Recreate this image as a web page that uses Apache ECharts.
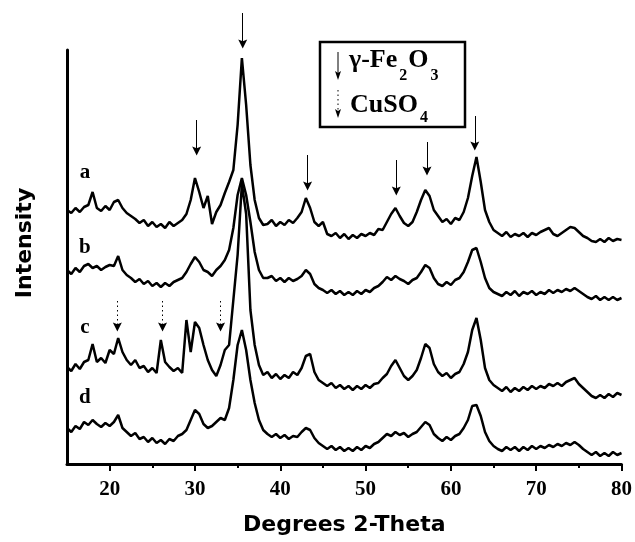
<!DOCTYPE html>
<html>
<head>
<meta charset="utf-8">
<script src="https://cdn.jsdelivr.net/npm/echarts@6/dist/echarts.min.js"></script>
<style>
html, body { margin: 0; padding: 0; background: #fff; }
#plot { width: 635px; height: 542px; }
</style>
</head>
<body>
<div id="plot"></div>
<script>
// 2-theta sample positions (degrees)
var twoTheta = [
    15, 15.5, 16, 16.5, 17, 17.5, 18, 18.5, 19, 19.5,
    20, 20.5, 21, 21.5, 22, 22.5, 23, 23.5, 24, 24.5,
    25, 25.5, 26, 26.5, 27, 27.5, 28, 28.5, 29, 29.5,
    30, 30.5, 31, 31.5, 32, 32.5, 33, 33.5, 34, 34.5,
    35, 35.5, 36, 36.5, 37, 37.5, 38, 38.5, 39, 39.5,
    40, 40.5, 41, 41.5, 42, 42.5, 43, 43.5, 44, 44.5,
    45, 45.5, 46, 46.5, 47, 47.5, 48, 48.5, 49, 49.5,
    50, 50.5, 51, 51.5, 52, 52.5, 53, 53.5, 54, 54.5,
    55, 55.5, 56, 56.5, 57, 57.5, 58, 58.5, 59, 59.5,
    60, 60.5, 61, 61.5, 62, 62.5, 63, 63.5, 64, 64.5,
    65, 65.5, 66, 66.5, 67, 67.5, 68, 68.5, 69, 69.5,
    70, 70.5, 71, 71.5, 72, 72.5, 73, 73.5, 74, 74.5,
    75, 75.5, 76, 76.5, 77, 77.5, 78, 78.5, 79, 79.5,
    80
];

// stacked patterns (arbitrary intensity, offsets included)
var intensityA = [
    254, 251, 256, 252, 257, 259, 272, 256, 253, 258,
    254, 262, 264, 256, 251, 248, 245, 241, 244, 238,
    242, 237, 240, 236, 242, 238, 241, 244, 250, 264,
    286, 272, 256, 268, 240, 252, 259, 271, 282, 294,
    339, 406, 359, 299, 264, 246, 239, 240, 244, 238,
    242, 239, 244, 241, 246, 252, 266, 256, 242, 238,
    242, 230, 228, 231, 226, 230, 225, 229, 226, 230,
    228, 231, 229, 235, 234, 242, 250, 256, 248, 241,
    238, 242, 252, 264, 274, 268, 254, 248, 242, 245,
    240, 246, 244, 252, 266, 288, 307, 282, 254, 242,
    234, 231, 228, 232, 227, 230, 228, 231, 227, 231,
    229, 232, 234, 236, 230, 228, 231, 234, 237, 236,
    232, 228, 226, 223, 222, 225, 222, 226, 223, 225,
    224
];
var intensityB = [
    194, 190, 196, 192, 198, 200, 196, 198, 194, 197,
    199, 198, 208, 194, 189, 186, 182, 185, 180, 183,
    178, 181, 177, 181, 178, 182, 184, 186, 192, 200,
    207, 202, 194, 192, 188, 194, 198, 204, 214, 236,
    269, 286, 269, 242, 212, 194, 186, 186, 188, 183,
    186, 182, 186, 183, 185, 188, 194, 190, 180, 176,
    174, 171, 174, 170, 173, 169, 172, 169, 173, 170,
    174, 172, 176, 178, 182, 187, 184, 188, 185, 183,
    180, 184, 186, 192, 199, 196, 186, 180, 178, 182,
    179, 184, 186, 192, 202, 214, 216, 202, 186, 176,
    172, 170, 168, 172, 169, 173, 168, 172, 170, 173,
    169, 172, 170, 174, 171, 174, 172, 175, 173, 176,
    173, 170, 167, 165, 168, 164, 167, 164, 167, 164,
    166
];
var intensityC = [
    97, 93, 100, 95, 102, 104, 120, 102, 106, 101,
    114, 110, 126, 112, 104, 99, 104, 96, 98, 92,
    96, 91, 124, 102, 97, 93, 96, 91, 144, 112,
    142, 136, 119, 104, 94, 88, 99, 114, 119, 164,
    209, 280, 250, 154, 119, 99, 89, 92, 86, 90,
    85, 89, 86, 92, 89, 96, 108, 110, 92, 84,
    81, 78, 81, 76, 79, 75, 78, 74, 78, 75,
    79, 76, 80, 81, 86, 90, 98, 104, 96, 88,
    84, 88, 94, 106, 120, 116, 100, 92, 88, 91,
    86, 90, 92, 100, 112, 134, 146, 124, 96, 84,
    79, 76, 73, 77, 72, 76, 73, 77, 74, 78,
    75, 78, 76, 80, 78, 81, 78, 82, 84, 86,
    80, 76, 72, 68, 66, 69, 66, 70, 67, 71,
    69
];
var intensityD = [
    36, 32, 38, 35, 42, 39, 44, 40, 37, 41,
    38, 42, 49, 36, 32, 28, 31, 25, 27, 22,
    26, 21, 24, 20, 25, 23, 28, 30, 34, 44,
    54, 50, 40, 36, 38, 42, 46, 44, 56, 84,
    119, 134, 114, 84, 61, 44, 34, 30, 27, 30,
    26, 29, 25, 28, 27, 32, 36, 34, 26, 21,
    18, 15, 18, 14, 17, 13, 16, 13, 17, 14,
    18, 16, 20, 22, 26, 30, 28, 32, 29, 31,
    27, 30, 32, 37, 42, 39, 30, 26, 23, 27,
    24, 28, 30, 36, 44, 58, 59, 48, 32, 23,
    18, 15, 13, 17, 14, 17, 13, 17, 14, 18,
    15, 18, 16, 19, 17, 20, 18, 21, 19, 22,
    19, 15, 12, 9, 12, 8, 11, 8, 12, 9,
    11
];

var traceNames = ['a', 'b', 'c', 'd'];
var labelTheta = 17.1;
var labelHeights = [291, 216, 136, 66];

// peak markers: gamma-Fe2O3 (solid) and CuSO4 (dotted)
var feArrowTheta = [30.2, 35.6, 43.2, 53.6, 57.2, 62.8];
var feArrowTail = [344, 451, 309, 304, 322, 348];
var feArrowHead = [313, 420, 278, 273, 293, 318];
var cuArrowTheta = [20.9, 26.2, 33.0];
var cuArrowTail = [163, 163, 163];
var cuArrowHead = [137, 137, 137];

var xLabelTicks = [20, 30, 40, 50, 60, 70, 80];
var xMinorTicks = [25, 35, 45, 55, 65, 75];

var arrowHead = 'path://M3,0 L6,10 L3,8 L0,10 Z';

var chart = echarts.init(document.getElementById('plot'));

function arrows(theta, tail, head) {
    return theta.map(function (t, i) {
        return [{ coord: [t, tail[i]] }, { coord: [t, head[i]] }];
    });
}

function makeSeries(idx, values) {
    var s = {
        type: 'line',
        xAxisIndex: 0,
        yAxisIndex: 0,
        data: twoTheta.map(function (t, i) { return [t, values[i]]; }),
        showSymbol: false,
        symbol: 'none',
        silent: true,
        clip: false,
        lineStyle: { color: '#000', width: 2.5 },
        markPoint: {
            silent: true,
            symbol: 'circle',
            symbolSize: 0,
            label: {
                show: true,
                formatter: traceNames[idx],
                fontFamily: 'Liberation Serif',
                fontWeight: 'bold',
                fontSize: 21,
                color: '#000'
            },
            data: [{ coord: [labelTheta, labelHeights[idx]] }]
        }
    };
    if (idx === 0) {
        s.markLine = {
            silent: true,
            symbol: ['none', arrowHead],
            symbolSize: 9,
            label: { show: false },
            lineStyle: { color: '#000', width: 1, type: 'solid' },
            data: arrows(feArrowTheta, feArrowTail, feArrowHead)
        };
    }
    if (idx === 2) {
        s.markLine = {
            silent: true,
            symbol: ['none', arrowHead],
            symbolSize: 9,
            label: { show: false },
            lineStyle: { color: '#000', width: 1, type: [1.5, 3] },
            data: arrows(cuArrowTheta, cuArrowTail, cuArrowHead)
        };
    }
    return s;
}

chart.setOption({
    animation: false,
    backgroundColor: '#fff',
    grid: [
        { left: 67, right: 12, top: 10, bottom: 78 },
        { left: 67, right: 12, top: 50, bottom: 78 }
    ],
    xAxis: [{
        type: 'value',
        gridIndex: 0,
        min: 15,
        max: 80,
        name: 'Degrees 2-Theta',
        nameLocation: 'middle',
        nameGap: 50,
        nameTextStyle: { fontFamily: 'DejaVu Sans', fontWeight: 'bold', fontSize: 22, color: '#000' },
        axisLine: { lineStyle: { color: '#000', width: 3 } },
        axisTick: { customValues: xLabelTicks, length: 7, lineStyle: { color: '#000', width: 2 } },
        axisLabel: {
            customValues: xLabelTicks,
            margin: 15,
            fontFamily: 'Liberation Serif',
            fontWeight: 'bold',
            fontSize: 21,
            color: '#000'
        },
        splitLine: { show: false }
    }, {
        type: 'value',
        gridIndex: 0,
        min: 15,
        max: 80,
        position: 'bottom',
        axisLine: { show: false },
        axisTick: { customValues: xMinorTicks, length: 4, lineStyle: { color: '#000', width: 2 } },
        axisLabel: { show: false },
        splitLine: { show: false }
    }, {
        type: 'value',
        gridIndex: 1,
        min: 15,
        max: 80,
        show: false
    }],
    yAxis: [{
        // data axis: 1 unit per pixel, extends above the frame for the arrows
        type: 'value',
        gridIndex: 0,
        min: 0,
        max: 454,
        axisLine: { show: false },
        axisTick: { show: false },
        axisLabel: { show: false },
        splitLine: { show: false }
    }, {
        // visible frame line
        type: 'value',
        gridIndex: 1,
        min: 0,
        max: 414,
        axisLine: { show: true, lineStyle: { color: '#000', width: 3 } },
        axisTick: { show: false },
        axisLabel: { show: false },
        splitLine: { show: false }
    }],
    graphic: [
        {
            type: 'text',
            x: 25,
            y: 243,
            rotation: Math.PI / 2,
            style: {
                text: 'Intensity',
                fontFamily: 'DejaVu Sans',
                fontWeight: 'bold',
                fontSize: 22,
                fill: '#000',
                align: 'center',
                verticalAlign: 'middle'
            }
        },
        {
            type: 'rect',
            shape: { x: 320, y: 42, width: 145, height: 85 },
            style: { fill: '#fff', stroke: '#000', lineWidth: 2.5 }
        },
        {
            type: 'line',
            shape: { x1: 338, y1: 52, x2: 338, y2: 74 },
            style: { stroke: '#000', lineWidth: 1 }
        },
        {
            type: 'polygon',
            shape: { points: [[335, 71], [338, 73], [341, 71], [338, 80]] },
            style: { fill: '#000' }
        },
        {
            type: 'line',
            shape: { x1: 338, y1: 90, x2: 338, y2: 112 },
            style: { stroke: '#000', lineWidth: 1, lineDash: [1.5, 3] }
        },
        {
            type: 'polygon',
            shape: { points: [[335, 109], [338, 111], [341, 109], [338, 118]] },
            style: { fill: '#000' }
        },
        {
            type: 'text',
            x: 349,
            y: 47,
            style: {
                text: '{b|γ-Fe}{s|2}{b|O}{s|3}',
                verticalAlign: 'top',
                rich: {
                    b: { fontFamily: 'Liberation Serif', fontWeight: 'bold', fontSize: 26, lineHeight: 26, verticalAlign: 'top', fill: '#000' },
                    s: { fontFamily: 'Liberation Serif', fontWeight: 'bold', fontSize: 16, lineHeight: 16, verticalAlign: 'top', padding: [21, 1, 0, 2], fill: '#000' }
                }
            }
        },
        {
            type: 'text',
            x: 350,
            y: 92,
            style: {
                text: '{b|CuSO}{s|4}',
                verticalAlign: 'top',
                rich: {
                    b: { fontFamily: 'Liberation Serif', fontWeight: 'bold', fontSize: 26, lineHeight: 26, verticalAlign: 'top', fill: '#000' },
                    s: { fontFamily: 'Liberation Serif', fontWeight: 'bold', fontSize: 16, lineHeight: 16, verticalAlign: 'top', padding: [18, 0, 0, 2], fill: '#000' }
                }
            }
        }
    ],
    series: [
        makeSeries(0, intensityA),
        makeSeries(1, intensityB),
        makeSeries(2, intensityC),
        makeSeries(3, intensityD)
    ]
});
</script>
</body>
</html>
